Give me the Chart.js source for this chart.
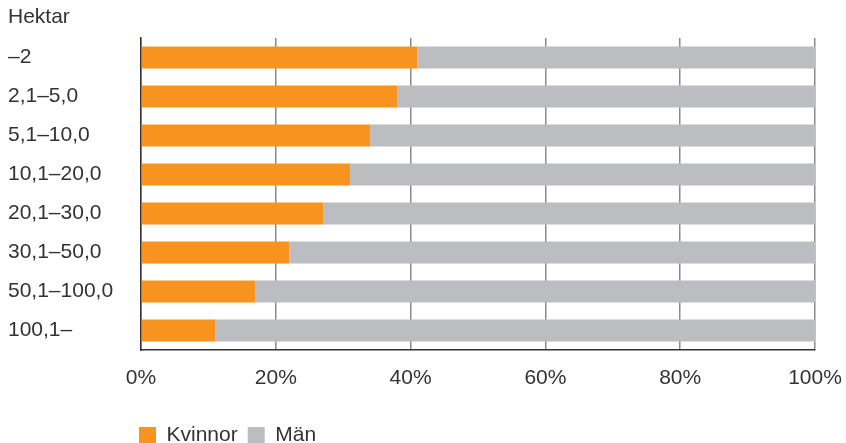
<!DOCTYPE html>
<html><head><meta charset="utf-8">
<script src="https://cdn.jsdelivr.net/npm/chart.js@4/dist/chart.umd.min.js"></script>
<style>html,body{margin:0;padding:0;background:#fff}#wrap{width:846px;height:443px}</style>
</head><body><div id="wrap"><canvas id="c" width="846" height="443"></canvas></div>
<script>
const categories = ['–2','2,1–5,0','5,1–10,0','10,1–20,0','20,1–30,0','30,1–50,0','50,1–100,0','100,1–'];
const kvinnor = [41,38,34,31,27,22,17,11];
const man = kvinnor.map(v => 100 - v);
const xTicks = [0,20,40,60,80,100];
const FONT = "'Liberation Sans', Arial, sans-serif";
const FS = 21;
const LEG_PAD = 10;
const legendPlacer = {
  id:'legendPlacer',
  afterLayout(chart){
    const lg = chart.legend; if(!lg) return;
    const dx = 139 - (lg.left + LEG_PAD);
    lg.left += dx; lg.right += dx;
    const dy = 425 - (lg.top + LEG_PAD);
    lg.top += dy; lg.bottom += dy;
  }
};
new Chart(document.getElementById('c'), {
  type: 'bar',
  data: {
    labels: categories,
    datasets: [
      {label:'Kvinnor', data:kvinnor, backgroundColor:'#F7931E', barPercentage:0.57, categoryPercentage:1},
      {label:'Män', data:man, backgroundColor:'#BCBDC1', barPercentage:0.57, categoryPercentage:1}
    ]
  },
  plugins:[legendPlacer],
  options: {
    indexAxis:'y', responsive:false, animation:false,
    layout:{padding:{left:8,right:31,top:0,bottom:0}},
    plugins:{
      title:{display:true,text:'Hektar',align:'start',color:'#333',font:{family:FONT,size:FS,weight:'normal'},padding:{top:4.5,bottom:8.3}},
      legend:{position:'bottom',align:'start',
        labels:{boxWidth:17,boxHeight:17,padding:LEG_PAD,color:'#333',font:{family:FONT,size:FS}}},
      tooltip:{enabled:false}
    },
    scales:{
      x:{stacked:true,min:0,max:100,
        afterBuildTicks:(s)=>{s.ticks = xTicks.map(v=>({value:v}));},
        ticks:{callback:(v)=>v+'%',color:'#333',font:{family:FONT,size:FS},padding:16,maxRotation:0},
        grid:{color:'#8a8a8a',lineWidth:1.5,drawTicks:false},
        border:{color:'#333',width:1.5},
        afterFit:(s)=>{
          const lh = s.chart.legend ? s.chart.legend.height : 0;
          s.height = 443 - 350 - lh;
          s.paddingLeft = 0; s.paddingRight = 0;
        }
      },
      y:{stacked:true,
        ticks:{crossAlign:'far',color:'#333',font:{family:FONT,size:FS},padding:0},
        grid:{display:false,drawTicks:false},
        border:{color:'#333',width:1.5},
        afterFit:(s)=>{s.width=133; s.paddingTop=0; s.paddingBottom=0;}
      }
    }
  }
});
</script></body></html>
